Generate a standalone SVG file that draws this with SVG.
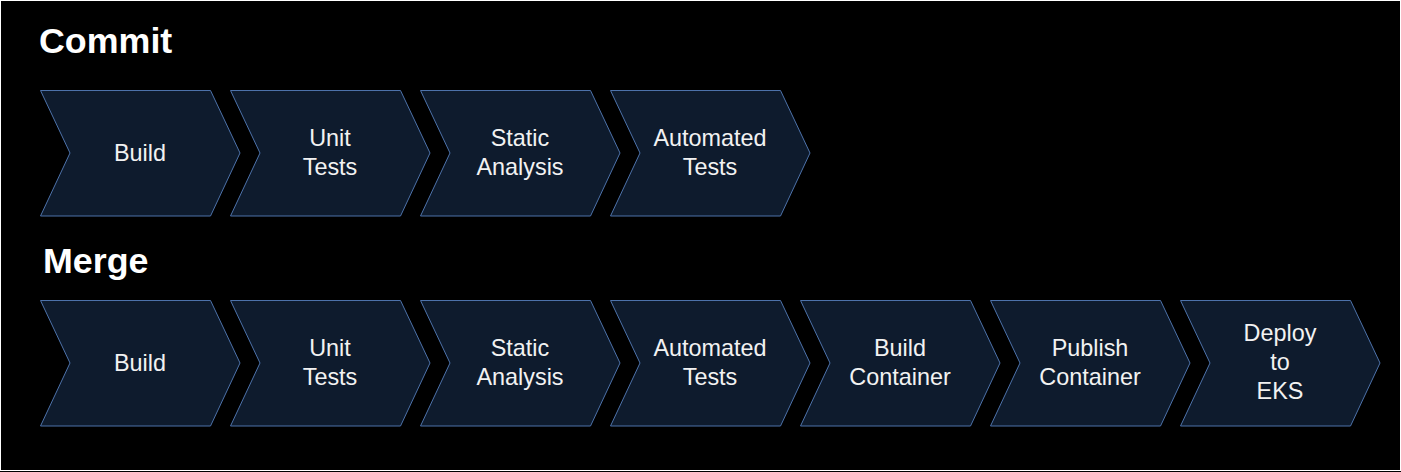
<svg xmlns="http://www.w3.org/2000/svg" width="1401" height="472" viewBox="0 0 1401 472">
<defs>
<style>
.chev{fill:#0e1b2d;stroke:#4d72aa;stroke-width:1}
.lbl{font-family:"Liberation Sans",Arial,sans-serif;font-size:23.4px;fill:#f2f2f2;text-anchor:middle}
.title{font-family:"Liberation Sans",Arial,sans-serif;font-size:35.8px;font-weight:bold;fill:#ffffff}
</style>
<path id="chevron" class="chev" d="M0.5,0.5 H170.5 L200,63 L170.5,126 H0.5 L30,63 Z"/>
</defs>
<rect x="0" y="0" width="1401" height="472" fill="#ffffff"/>
<rect x="1" y="1" width="1399" height="469" fill="#000000"/>
<rect x="0" y="471" width="1401" height="1" fill="#000000"/>
<text class="title" x="39" y="53">Commit</text>
<text class="title" x="43" y="273">Merge</text>
<g id="commit-build"><use href="#chevron" x="40" y="90"/><text class="lbl" x="140" y="161">Build</text></g>
<g id="commit-unit-tests"><use href="#chevron" x="230" y="90"/><text class="lbl" x="330" y="146">Unit</text><text class="lbl" x="330" y="175">Tests</text></g>
<g id="commit-static-analysis"><use href="#chevron" x="420" y="90"/><text class="lbl" x="520" y="146">Static</text><text class="lbl" x="520" y="175">Analysis</text></g>
<g id="commit-automated-tests"><use href="#chevron" x="610" y="90"/><text class="lbl" x="710" y="146">Automated</text><text class="lbl" x="710" y="175">Tests</text></g>
<g id="merge-build"><use href="#chevron" x="40" y="300"/><text class="lbl" x="140" y="371">Build</text></g>
<g id="merge-unit-tests"><use href="#chevron" x="230" y="300"/><text class="lbl" x="330" y="356">Unit</text><text class="lbl" x="330" y="385">Tests</text></g>
<g id="merge-static-analysis"><use href="#chevron" x="420" y="300"/><text class="lbl" x="520" y="356">Static</text><text class="lbl" x="520" y="385">Analysis</text></g>
<g id="merge-automated-tests"><use href="#chevron" x="610" y="300"/><text class="lbl" x="710" y="356">Automated</text><text class="lbl" x="710" y="385">Tests</text></g>
<g id="merge-build-container"><use href="#chevron" x="800" y="300"/><text class="lbl" x="900" y="356">Build</text><text class="lbl" x="900" y="385">Container</text></g>
<g id="merge-publish-container"><use href="#chevron" x="990" y="300"/><text class="lbl" x="1090" y="356">Publish</text><text class="lbl" x="1090" y="385">Container</text></g>
<g id="merge-deploy-eks"><use href="#chevron" x="1180" y="300"/><text class="lbl" x="1280" y="341">Deploy</text><text class="lbl" x="1280" y="370">to</text><text class="lbl" x="1280" y="399">EKS</text></g>
<g id="connectors"></g>
</svg>
